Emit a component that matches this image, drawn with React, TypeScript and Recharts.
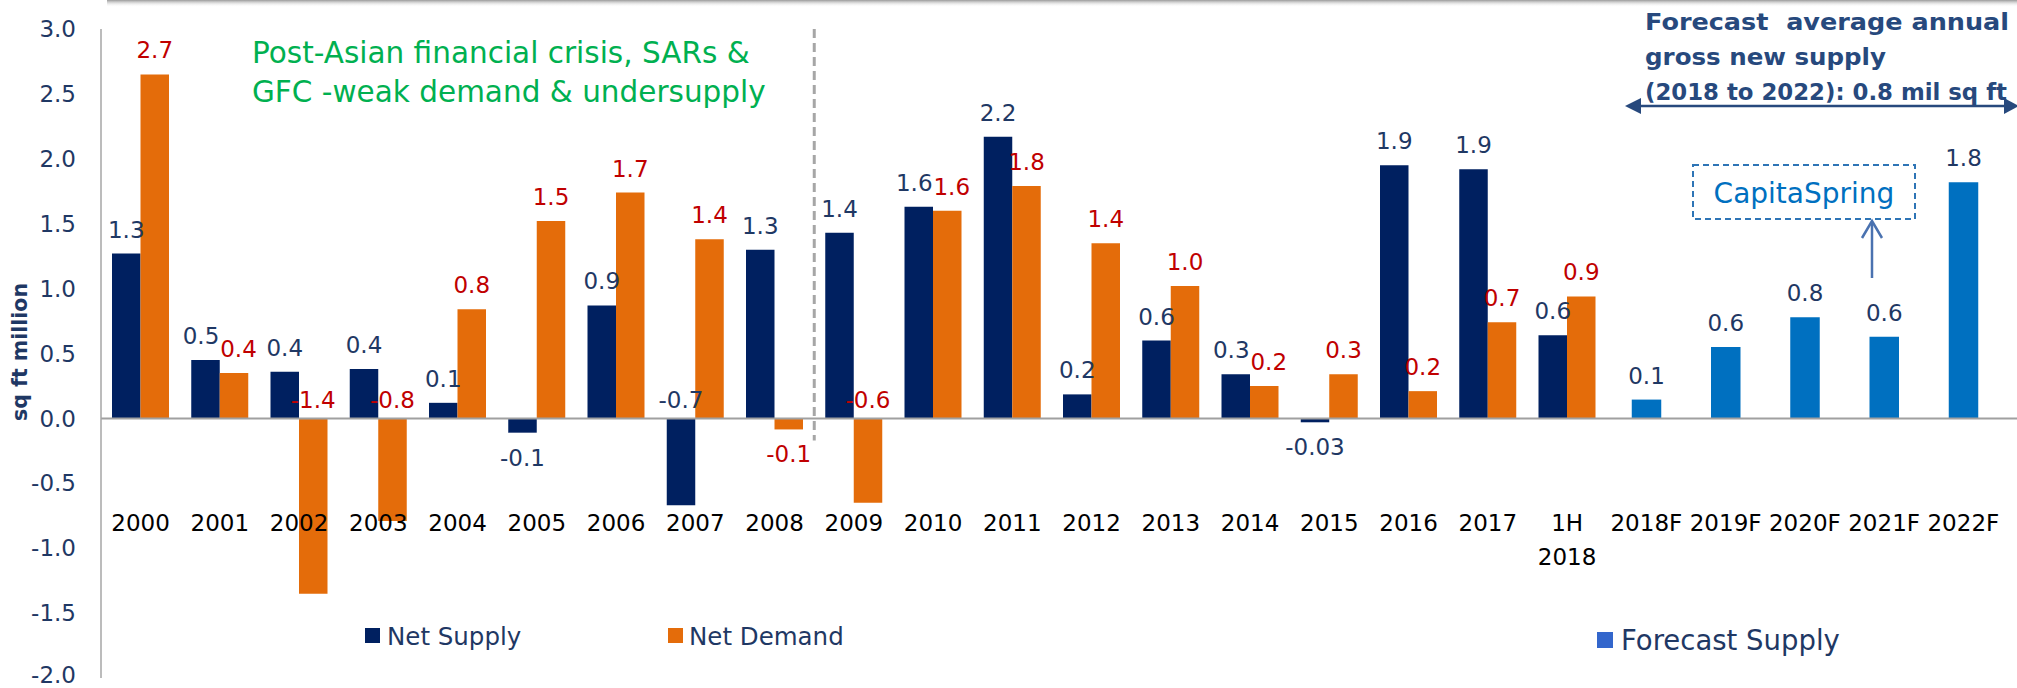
import React from 'react';
import { BarChart, Bar, XAxis, YAxis, ReferenceLine, LabelList } from 'recharts';

const categories = ['2000','2001','2002','2003','2004','2005','2006','2007','2008','2009','2010','2011','2012','2013','2014','2015','2016','2017','1H 2018','2018F','2019F','2020F','2021F','2022F'];
const netSupply = [1.27,0.45,0.36,0.38,0.12,-0.11,0.87,-0.67,1.30,1.43,1.63,2.17,0.185,0.60,0.34,-0.03,1.95,1.92,0.64,null,null,null,null,null];
const netDemand = [2.65,0.35,-1.35,-0.79,0.84,1.52,1.74,1.38,-0.085,-0.65,1.60,1.79,1.35,1.02,0.25,0.34,0.21,0.74,0.94,null,null,null,null,null];
const forecastSupply = [null,null,null,null,null,null,null,null,null,null,null,null,null,null,null,null,null,null,null,0.145,0.55,0.78,0.63,1.82];
const supplyLabels = ['1.3','0.5','0.4','0.4','0.1','-0.1','0.9','-0.7','1.3','1.4','1.6','2.2','0.2','0.6','0.3','-0.03','1.9','1.9','0.6','','','','',''];
const demandLabels = ['2.7','0.4','-1.4','-0.8','0.8','1.5','1.7','1.4','-0.1','-0.6','1.6','1.8','1.4','1.0','0.2','0.3','0.2','0.7','0.9','','','','',''];
const forecastLabels = ['','','','','','','','','','','','','','','','','','','','0.1','0.6','0.8','0.6','1.8'];
const yTicks = [-2,-1.5,-1,-0.5,0,0.5,1,1.5,2,2.5,3];

const data = categories.map((cat, i) => ({
  cat,
  supply: netSupply[i],
  demand: netDemand[i],
  forecast: forecastSupply[i],
  supplyLabel: supplyLabels[i],
  demandLabel: demandLabels[i],
  forecastLabel: forecastLabels[i],
}));

const FONT = '"DejaVu Sans", sans-serif';
const NAVY_TXT = '#1F3864';
const RED_TXT = '#C00000';

const crowded = (i: number) => {
  const s = netSupply[i];
  const d = netDemand[i];
  return s != null && d != null && s >= 0 && d >= 0 && Math.abs(s - d) < 0.19;
};

const makeLabel = (color: string, side: number) => (props: any) => {
  const vb = props.viewBox || props;
  const { x, y, width, height } = vb;
  const label = props.value;
  if (label == null || label === '' || x == null) return null;
  const v = parseFloat(String(label));
  const top = Math.min(y, y + height);
  const bottom = Math.max(y, y + height);
  let ty: number;
  if (v >= 0) ty = top - 16;
  else if (v > -0.2) ty = bottom + 33;
  else ty = top - 10;
  const dx = side !== 0 && typeof props.index === 'number' && crowded(props.index) ? side * 4.5 : 0;
  return (
    <text x={x + width / 2 + dx} y={ty} textAnchor="middle" fill={color} fontSize={23} fontFamily={FONT}>
      {label}
    </text>
  );
};

const XTick = (props: any) => {
  const { x, y, payload } = props;
  const lines = String(payload.value).split(' ');
  return (
    <g>
      {lines.map((l, i) => (
        <text key={i} x={x} y={y - 147 + i * 34} textAnchor="middle" fill="#000" fontSize={23} fontFamily={FONT}>
          {l}
        </text>
      ))}
    </g>
  );
};

const YTick = (props: any) => {
  const { x, y, payload } = props;
  const cy = Math.min(y, 675);
  return (
    <text x={x} y={cy} dy="0.355em" textAnchor="end" fill={NAVY_TXT} fontSize={23} fontFamily={FONT}>
      {Number(payload.value).toFixed(1)}
    </text>
  );
};

const Overlay = () => (
  <svg width={2017} height={688} style={{ position: 'absolute', left: 0, top: 0, pointerEvents: 'none' }}>
    <defs>
      <linearGradient id="shade" x1="0" y1="0" x2="0" y2="1">
        <stop offset="0" stopColor="#9A9A9A" />
        <stop offset="1" stopColor="#FFFFFF" stopOpacity="0" />
      </linearGradient>
    </defs>
    <rect x={107} y={0} width={1910} height={7} fill="url(#shade)" />
    <text x={27} y={352} transform="rotate(-90 27 352)" textAnchor="middle" fill={NAVY_TXT} fontSize={20.5} fontWeight="bold" fontFamily={FONT}>
      sq ft million
    </text>
    <text x={252} y={63} fill="#00B050" fontSize={29.5} fontFamily={FONT}>Post-Asian financial crisis, SARs &amp;</text>
    <text x={252} y={102} fill="#00B050" fontSize={29.5} fontFamily={FONT}>GFC -weak demand &amp; undersupply</text>
    <text x={1645} y={30} fill="#27497D" fontSize={23} fontWeight="bold" fontFamily={FONT} textLength={364} lengthAdjust="spacingAndGlyphs" style={{ whiteSpace: 'pre' }}>Forecast  average annual</text>
    <text x={1645} y={65} fill="#27497D" fontSize={23} fontWeight="bold" fontFamily={FONT} textLength={241} lengthAdjust="spacingAndGlyphs">gross new supply</text>
    <text x={1645} y={100} fill="#27497D" fontSize={23} fontWeight="bold" fontFamily={FONT} textLength={362} lengthAdjust="spacingAndGlyphs">(2018 to 2022): 0.8 mil sq ft</text>
    <line x1={1638} y1={106} x2={2008} y2={106} stroke="#27497D" strokeWidth={2.5} />
    <polygon points="1625,106 1641,98 1641,114" fill="#27497D" />
    <polygon points="2019,106 2004,98 2004,114" fill="#27497D" />
    <rect x={1693} y={165} width={222} height={54} fill="none" stroke="#2E75B6" strokeWidth={2} strokeDasharray="6 4" />
    <text x={1804} y={203} textAnchor="middle" fill="#0070C0" fontSize={28} fontFamily={FONT}>CapitaSpring</text>
    <line x1={1872} y1={278} x2={1872} y2={223} stroke="#4A72B0" strokeWidth={2.5} />
    <polyline points="1862,238 1872,221 1882,238" fill="none" stroke="#4A72B0" strokeWidth={2.5} />
    <rect x={365} y={628} width={15} height={15} fill="#002060" />
    <text x={387} y={645} fill={NAVY_TXT} fontSize={24.5} fontFamily={FONT}>Net Supply</text>
    <rect x={668} y={628} width={15} height={15} fill="#E46C0A" />
    <text x={689} y={645} fill={NAVY_TXT} fontSize={24.5} fontFamily={FONT}>Net Demand</text>
    <rect x={1597} y={632} width={16} height={16} fill="#3366CC" />
    <text x={1621} y={650} fill={NAVY_TXT} fontSize={27.5} fontFamily={FONT}>Forecast Supply</text>
  </svg>
);

export default function App() {
  return (
    <div style={{ position: 'absolute', left: 0, top: 0, width: 2017, height: 688, background: '#fff' }}>
      <BarChart
        width={2017}
        height={688}
        data={data}
        margin={{ top: 29, right: 0, bottom: 0, left: 0 }}
        barGap={0}
      >
        <XAxis
          dataKey="cat"
          interval={0}
          tickLine={false}
          axisLine={false}
          tickSize={0}
          tickMargin={0}
          height={10}
          padding={{ left: 0, right: 14 }}
          tick={<XTick />}
        />
        <XAxis xAxisId="f" dataKey="cat" hide padding={{ left: 0, right: 14 }} />
        <YAxis
          width={101}
          domain={[-2, 3]}
          ticks={yTicks}
          interval={0}
          tick={<YTick />}
          tickLine={false}
          tickSize={6}
          tickMargin={19}
          axisLine={{ stroke: '#A6A6A6', strokeWidth: 1.5 }}
        />
        <ReferenceLine y={0} stroke="#A0A0A0" strokeWidth={2} />
        <ReferenceLine
          segment={[{ x: '2008', y: 3 }, { x: '2008', y: -0.17 }]}
          position="end"
          stroke="#A6A6A6"
          strokeWidth={3}
          strokeDasharray="9 5"
        />
        <Bar dataKey="supply" name="Net Supply" fill="#002060" barSize={28.5} isAnimationActive={false}>
          <LabelList dataKey="supplyLabel" content={makeLabel(NAVY_TXT, -1)} />
        </Bar>
        <Bar dataKey="demand" name="Net Demand" fill="#E46C0A" barSize={28.5} isAnimationActive={false}>
          <LabelList dataKey="demandLabel" content={makeLabel(RED_TXT, 1)} />
        </Bar>
        <Bar xAxisId="f" dataKey="forecast" name="Forecast Supply" fill="#0070C0" barSize={29.5} isAnimationActive={false}>
          <LabelList dataKey="forecastLabel" content={makeLabel(NAVY_TXT, 0)} />
        </Bar>
      </BarChart>
      <Overlay />
    </div>
  );
}
